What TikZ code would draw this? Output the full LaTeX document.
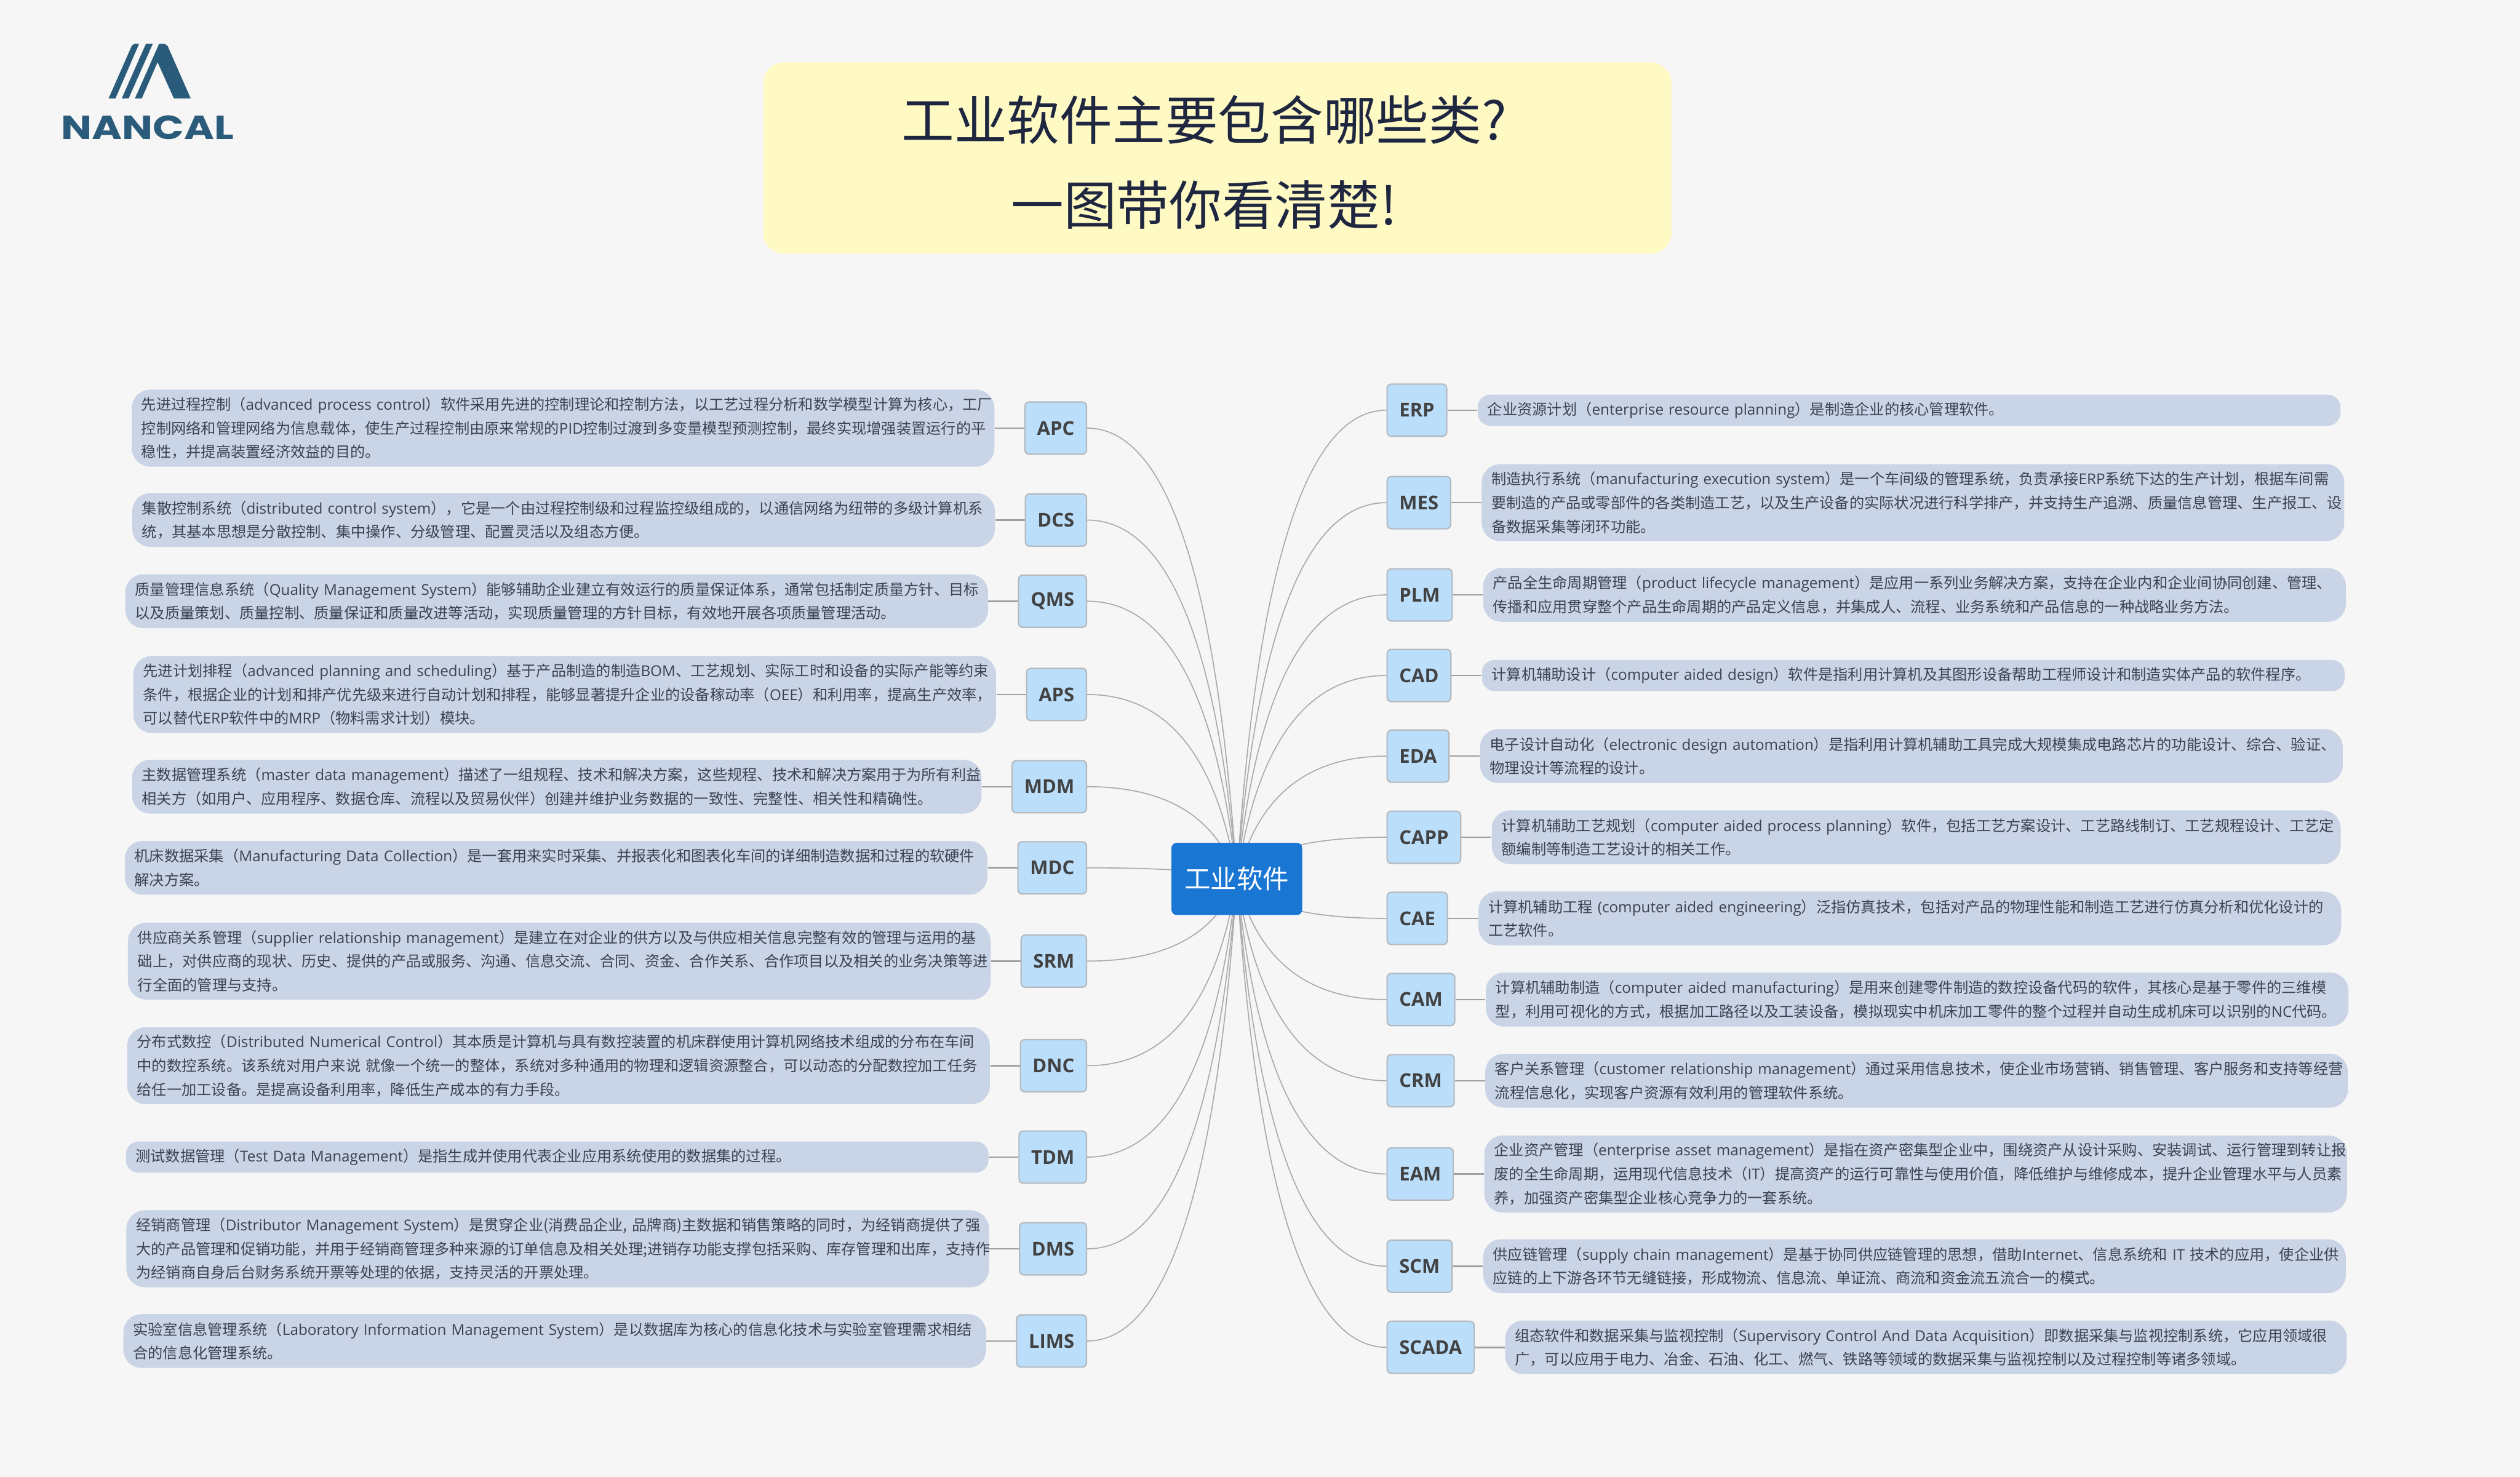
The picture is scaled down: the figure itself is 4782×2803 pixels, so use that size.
\documentclass[tikz,border=0pt]{standalone}
\usepackage{fontspec}
\usepackage{graphicx}
\usetikzlibrary{positioning, calc, backgrounds}
\setmainfont{Noto Sans CJK SC}
\newfontfamily\enfont{Open Sans}
\newfontfamily\logofont{Poppins}
\newcommand{\en}[1]{{\enfont #1}}
\definecolor{paper}{HTML}{F6F6F6}
\definecolor{bannerfill}{HTML}{FFF9C4}
\definecolor{headingtext}{HTML}{1F2640}
\definecolor{logoblue}{HTML}{2B5B7B}
\definecolor{rootfill}{HTML}{1976D2}
\definecolor{tagfill}{HTML}{BBDEFB}
\definecolor{tagline}{HTML}{B4B9BE}
\definecolor{taglabel}{HTML}{424242}
\definecolor{notefill}{HTML}{C9D4E6}
\definecolor{notetext}{HTML}{3A4354}
\definecolor{linkgray}{HTML}{ABABAB}
\definecolor{stemgray}{HTML}{A0A0A0}

\begin{document}
\begin{tikzpicture}[x=.01cm, y=-.01cm]
    \tikzset{banner/.style={rectangle,rounded corners=.4cm,fill=bannerfill,minimum width=17.23cm,minimum height=3.63cm}}
    \tikzset{heading/.style={align=center,text=headingtext,inner sep=0,font=\fontsize{28.45pt}{45.5pt}\selectfont}}
    \tikzset{root/.style={rectangle,rounded corners=.1cm,fill=rootfill,text=white,minimum width=2.48cm,minimum height=1.37cm,font=\fontsize{14.1pt}{17pt}\selectfont}}
    \tikzset{tagbox/.style={rectangle,rounded corners=.08cm,draw=tagline,fill=tagfill,line width=.025cm,minimum height=.99cm,inner xsep=.23cm,text=taglabel,font=\enfont\bfseries\fontsize{10.3pt}{12pt}\selectfont}}
    \tikzset{tagleft/.style={tagbox,anchor=east}}
    \tikzset{tagright/.style={tagbox,anchor=west}}
    \tikzset{note/.style={rectangle,fill=notefill,text=notetext,align=left,text width=15.99cm,inner xsep=.185cm,inner ysep=0,font=\fontsize{8.05pt}{12.8pt}\selectfont}}
    \tikzset{note1/.style={note,rounded corners=.24cm,minimum height=.59cm}}
    \tikzset{note2/.style={note,rounded corners=.34cm,minimum height=1.02cm}}
    \tikzset{note3/.style={note,rounded corners=.35cm,minimum height=1.46cm}}
    \tikzset{link/.style={draw=linkgray,line width=.02cm}}
    \tikzset{stem/.style={draw=stemgray,line width=.03cm}}

    \useasboundingbox (0,0) rectangle (4782,2803);

    \fill[logoblue] (206,187) -- (219,187) -- (264,83) -- (255,83) -- (250,87) -- cycle;
    \fill[logoblue] (231,187) -- (244,187) -- (290,83) -- (277,83) -- cycle;
    \fill[logoblue] (256,187) -- (269,187) -- (299,118) -- (330,187) -- (362,187) -- (318,87) -- (312,83) -- (302,83) -- cycle;
    \node[inner sep=0, text=logoblue] at (280, 242.5) (logo) {\resizebox{3.27cm}{.45cm}{\logofont\bfseries NANCAL}};

    \node[banner] at (2310, 300) (banner) {};
    \node[heading] at (2285, 308) (title) {工业软件主要包含哪些类?\\一图带你看清楚!};

    \node[root] at (2347, 1668) (software) {工业软件};

    \begin{scope}[node distance=.56cm]
    \node[tagleft] at (2063, 812.5) (apc) {APC};
    \node[note3, left=of apc] (apcnote) {先进过程控制（\en{advanced~process~control}）软件采用先进的控制理论和控制方法，以工艺过程分析和数学模型计算为核心，工厂\\控制网络和管理网络为信息载体，使生产过程控制由原来常规的\en{PID}控制过渡到多变量模型预测控制，最终实现增强装置运行的平\\稳性，并提高装置经济效益的目的。};
    \node[tagleft] at (2063, 987) (dcs) {DCS};
    \node[note2, left=of dcs] (dcsnote) {集散控制系统（\en{distributed~control~system}），它是一个由过程控制级和过程监控级组成的，以通信网络为纽带的多级计算机系\\统，其基本思想是分散控制、集中操作、分级管理、配置灵活以及组态方便。};
    \node[tagleft] at (2063, 1141) (qms) {QMS};
    \node[note2, left=of qms] (qmsnote) {质量管理信息系统（\en{Quality~Management~System}）能够辅助企业建立有效运行的质量保证体系，通常包括制定质量方针、目标\\以及质量策划、质量控制、质量保证和质量改进等活动，实现质量管理的方针目标，有效地开展各项质量管理活动。};
    \node[tagleft] at (2063, 1318) (aps) {APS};
    \node[note3, left=of aps] (apsnote) {先进计划排程（\en{advanced~planning~and~scheduling}）基于产品制造的制造\en{BOM}、工艺规划、实际工时和设备的实际产能等约束\\条件，根据企业的计划和排产优先级来进行自动计划和排程，能够显著提升企业的设备稼动率（\en{OEE}）和利用率，提高生产效率，\\可以替代\en{ERP}软件中的\en{MRP}（物料需求计划）模块。};
    \node[tagleft] at (2063, 1493) (mdm) {MDM};
    \node[note2, text width=15.74cm, left=of mdm] (mdmnote) {主数据管理系统（\en{master~data~management}）描述了一组规程、技术和解决方案，这些规程、技术和解决方案用于为所有利益\\相关方（如用户、应用程序、数据仓库、流程以及贸易伙伴）创建并维护业务数据的一致性、完整性、相关性和精确性。};
    \node[tagleft] at (2063, 1647) (mdc) {MDC};
    \node[note2, left=of mdc] (mdcnote) {机床数据采集（\en{Manufacturing~Data~Collection}）是一套用来实时采集、并报表化和图表化车间的详细制造数据和过程的软硬件\\解决方案。};
    \node[tagleft] at (2063, 1824) (srm) {SRM};
    \node[note3, left=of srm] (srmnote) {供应商关系管理（\en{supplier~relationship~management}）是建立在对企业的供方以及与供应相关信息完整有效的管理与运用的基\\础上，对供应商的现状、历史、提供的产品或服务、沟通、信息交流、合同、资金、合作关系、合作项目以及相关的业务决策等进\\行全面的管理与支持。};
    \node[tagleft] at (2063, 2022.5) (dnc) {DNC};
    \node[note3, left=of dnc] (dncnote) {分布式数控（\en{Distributed~Numerical~Control}）其本质是计算机与具有数控装置的机床群使用计算机网络技术组成的分布在车间\\中的数控系统。该系统对用户来说~就像一个统一的整体，系统对多种通用的物理和逻辑资源整合，可以动态的分配数控加工任务\\给任一加工设备。是提高设备利用率，降低生产成本的有力手段。};
    \node[tagleft] at (2063, 2196) (tdm) {TDM};
    \node[note1, left=of tdm] (tdmnote) {测试数据管理（\en{Test~Data~Management}）是指生成并使用代表企业应用系统使用的数据集的过程。};
    \node[tagleft] at (2063, 2370) (dms) {DMS};
    \node[note3, left=of dms] (dmsnote) {经销商管理（\en{Distributor~Management~System}）是贯穿企业(消费品企业,~品牌商)主数据和销售策略的同时，为经销商提供了强\\大的产品管理和促销功能，并用于经销商管理多种来源的订单信息及相关处理;进销存功能支撑包括采购、库存管理和出库，支持作\\为经销商自身后台财务系统开票等处理的依据，支持灵活的开票处理。};
    \node[tagleft] at (2063, 2545) (lims) {LIMS};
    \node[note2, left=of lims] (limsnote) {实验室信息管理系统（\en{Laboratory~Information~Management~System}）是以数据库为核心的信息化技术与实验室管理需求相结\\合的信息化管理系统。};
    \end{scope}

    \begin{scope}[node distance=.57cm]
    \node[tagright] at (2631, 778.5) (erp) {ERP};
    \node[note1, right=of erp] (erpnote) {企业资源计划（\en{enterprise~resource~planning}）是制造企业的核心管理软件。};
    \node[tagright] at (2631, 954) (mes) {MES};
    \node[note3, right=of mes] (mesnote) {制造执行系统（\en{manufacturing~execution~system}）是一个车间级的管理系统，负责承接\en{ERP}系统下达的生产计划，根据车间需\\要制造的产品或零部件的各类制造工艺，以及生产设备的实际状况进行科学排产，并支持生产追溯、质量信息管理、生产报工、设\\备数据采集等闭环功能。};
    \node[tagright] at (2631, 1129) (plm) {PLM};
    \node[note2, right=of plm] (plmnote) {产品全生命周期管理（\en{product~lifecycle~management}）是应用一系列业务解决方案，支持在企业内和企业间协同创建、管理、\\传播和应用贯穿整个产品生命周期的产品定义信息，并集成人、流程、业务系统和产品信息的一种战略业务方法。};
    \node[tagright] at (2631, 1282) (cad) {CAD};
    \node[note1, right=of cad] (cadnote) {计算机辅助设计（\en{computer~aided~design}）软件是指利用计算机及其图形设备帮助工程师设计和制造实体产品的软件程序。};
    \node[tagright] at (2631, 1435) (eda) {EDA};
    \node[note2, right=of eda] (edanote) {电子设计自动化（\en{electronic~design~automation}）是指利用计算机辅助工具完成大规模集成电路芯片的功能设计、综合、验证、\\物理设计等流程的设计。};
    \node[tagright] at (2631, 1589) (capp) {CAPP};
    \node[note2, text width=15.73cm, right=of capp] (cappnote) {计算机辅助工艺规划（\en{computer~aided~process~planning}）软件，包括工艺方案设计、工艺路线制订、工艺规程设计、工艺定\\额编制等制造工艺设计的相关工作。};
    \node[tagright] at (2631, 1743) (cae) {CAE};
    \node[note2, right=of cae] (caenote) {计算机辅助工程~\en{(computer~aided~engineering}）泛指仿真技术，包括对产品的物理性能和制造工艺进行仿真分析和优化设计的\\工艺软件。};
    \node[tagright] at (2631, 1897) (cam) {CAM};
    \node[note2, right=of cam] (camnote) {计算机辅助制造（\en{computer~aided~manufacturing}）是用来创建零件制造的数控设备代码的软件，其核心是基于零件的三维模\\型，利用可视化的方式，根据加工路径以及工装设备，模拟现实中机床加工零件的整个过程并自动生成机床可以识别的\en{NC}代码。};
    \node[tagright] at (2631, 2051) (crm) {CRM};
    \node[note2, right=of crm] (crmnote) {客户关系管理（\en{customer~relationship~management}）通过采用信息技术，使企业市场营销、销售管理、客户服务和支持等经营\\流程信息化，实现客户资源有效利用的管理软件系统。};
    \node[tagright] at (2631, 2228) (eam) {EAM};
    \node[note3, right=of eam] (eamnote) {企业资产管理（\en{enterprise~asset~management}）是指在资产密集型企业中，围绕资产从设计采购、安装调试、运行管理到转让报\\废的全生命周期，运用现代信息技术（\en{IT}）提高资产的运行可靠性与使用价值，降低维护与维修成本，提升企业管理水平与人员素\\养，加强资产密集型企业核心竞争力的一套系统。};
    \node[tagright] at (2631, 2403) (scm) {SCM};
    \node[note2, right=of scm] (scmnote) {供应链管理（\en{supply~chain~management}）是基于协同供应链管理的思想，借助\en{Internet}、信息系统和~\en{IT}~技术的应用，使企业供\\应链的上下游各环节无缝链接，形成物流、信息流、单证流、商流和资金流五流合一的模式。};
    \node[tagright] at (2631, 2557) (scada) {SCADA};
    \node[note2, text width=15.59cm, right=of scada] (scadanote) {组态软件和数据采集与监视控制（\en{Supervisory~Control~And~Data~Acquisition}）即数据采集与监视控制系统，它应用领域很\\广，可以应用于电力、冶金、石油、化工、燃气、铁路等领域的数据采集与监视控制以及过程控制等诸多领域。};
    \end{scope}

    \begin{scope}[on background layer]
    \fill[paper] (0,0) rectangle (4782,2803);
    \foreach \sys in {apc,dcs,qms,aps,mdm,mdc,srm,dnc,tdm,dms,lims} {
        \draw[link] let \p1=(\sys.east), \p2=(software.center) in (\p1) .. controls ({\x1+.533*(\x2-\x1)},\y1) and ({\x2-.133*(\x2-\x1)},{\y2-.667*(\y2-\y1)}) .. (\p2);
        \draw[stem] (\sys note.east) -- (\sys.west);
    }
    \foreach \sys in {erp,mes,plm,cad,eda,capp,cae,cam,crm,eam,scm,scada} {
        \draw[link] let \p1=(\sys.west), \p2=(software.center) in (\p1) .. controls ({\x1+.533*(\x2-\x1)},\y1) and ({\x2-.133*(\x2-\x1)},{\y2-.667*(\y2-\y1)}) .. (\p2);
        \draw[stem] (\sys.east) -- (\sys note.west);
    }
    \end{scope}
\end{tikzpicture}
\end{document}
